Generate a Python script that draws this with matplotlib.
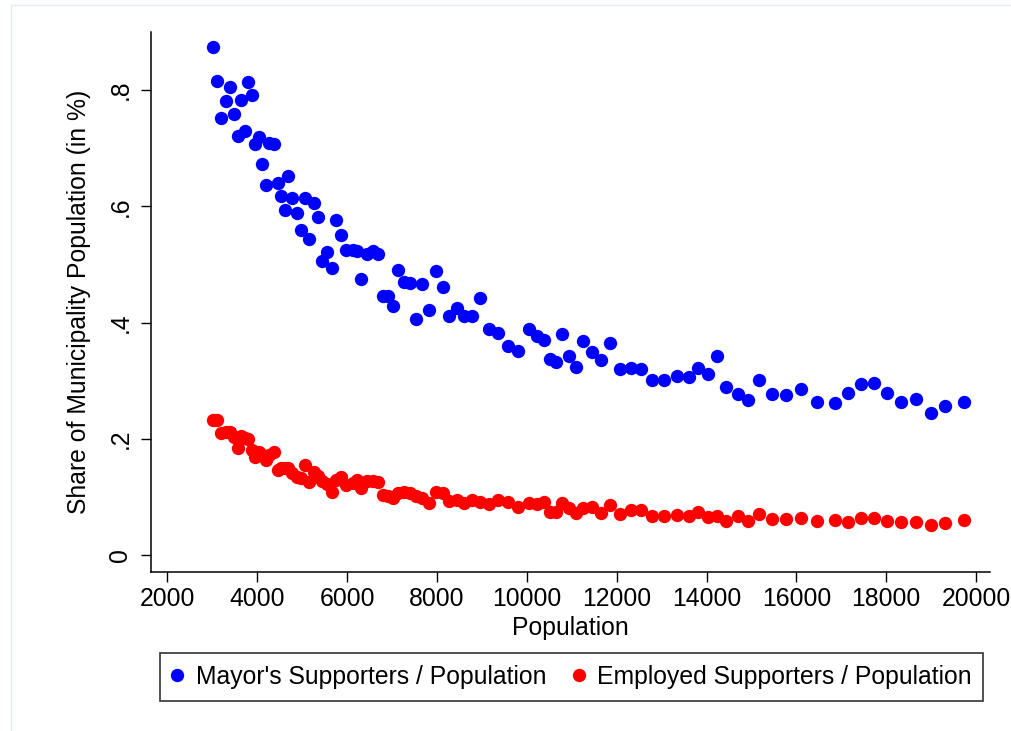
import matplotlib
matplotlib.use("Agg")
import matplotlib.pyplot as plt
from matplotlib.lines import Line2D

plt.rcParams['font.family'] = ['Liberation Sans', 'DejaVu Sans']

population = [3010, 3100, 3190, 3300, 3390, 3480, 3570, 3640, 3720, 3790,
              3880, 3950, 4040, 4100, 4190, 4260, 4370, 4460, 4530, 4620,
              4680, 4770, 4880, 4970, 5060, 5150, 5260, 5350, 5440, 5550,
              5660, 5750, 5860, 5970, 6130, 6220, 6310, 6440, 6580, 6690,
              6800, 6910, 7020, 7130, 7270, 7400, 7530, 7670, 7820, 7980,
              8130, 8270, 8450, 8600, 8780, 8960, 9160, 9360, 9580, 9800,
              10050, 10230, 10380, 10520, 10650, 10780, 10940, 11090, 11250, 11450,
              11650, 11850, 12070, 12320, 12540, 12790, 13050, 13340, 13610, 13810,
              14030, 14230, 14430, 14700, 14920, 15170, 15460, 15770, 16100, 16460,
              16860, 17150, 17440, 17730, 18020, 18330, 18660, 19000, 19310, 19730]

mayor_supporters = [.874, .815, .752, .781, .805, .759, .721, .783, .730, .814,
                    .791, .707, .719, .673, .637, .709, .707, .640, .618, .594,
                    .652, .614, .589, .559, .614, .544, .606, .582, .506, .522,
                    .494, .577, .551, .525, .525, .523, .475, .518, .523, .518,
                    .446, .446, .429, .491, .470, .468, .406, .467, .422, .489,
                    .461, .412, .425, .412, .412, .443, .389, .382, .360, .351,
                    .389, .377, .370, .338, .333, .381, .343, .324, .369, .350,
                    .336, .365, .321, .322, .321, .302, .302, .308, .307, .322,
                    .312, .343, .290, .278, .267, .302, .278, .276, .286, .264,
                    .262, .279, .295, .296, .279, .264, .269, .245, .257, .264]

employed_supporters = [.233, .233, .211, .212, .212, .204, .185, .205, .202, .200,
                       .181, .169, .178, .173, .164, .173, .178, .147, .150, .150,
                       .150, .142, .135, .133, .156, .126, .143, .137, .128, .123,
                       .109, .130, .135, .121, .125, .130, .116, .128, .128, .126,
                       .104, .102, .099, .107, .109, .107, .102, .099, .090, .109,
                       .107, .094, .095, .090, .095, .092, .089, .095, .092, .083,
                       .090, .089, .092, .075, .075, .090, .082, .073, .082, .083,
                       .073, .087, .071, .078, .078, .068, .068, .070, .068, .075,
                       .066, .068, .059, .068, .059, .071, .063, .063, .064, .059,
                       .061, .058, .064, .064, .059, .058, .058, .052, .056, .061]

x_ticks = [2000, 4000, 6000, 8000, 10000, 12000, 14000, 16000, 18000, 20000]
y_ticks = [0, 0.2, 0.4, 0.6, 0.8]
y_tick_labels = ["0", ".2", ".4", ".6", ".8"]
series_labels = ["Mayor's Supporters / Population", "Employed Supporters / Population"]

W, H = 1011, 731
fig = plt.figure(figsize=(W / 100, H / 100), dpi=100)
fig.patch.set_facecolor('white')

ax = fig.add_axes([151 / W, (H - 572) / H, (990 - 151) / W, (572 - 32) / H])
ms = 9.6
ax.plot(population, mayor_supporters, 'o', color='#0000ff', ms=ms, mec='#0000ff', mew=0, label=series_labels[0])
ax.plot(population, employed_supporters, 'o', color='#ff0000', ms=ms, mec='#ff0000', mew=0, label=series_labels[1])

ax.set_xlim(1633, 20311)
ax.set_ylim(-0.0284, 0.8996)
ax.set_xticks(x_ticks)
ax.set_xticklabels([str(t) for t in x_ticks])
ax.set_yticks(y_ticks)
ax.set_yticklabels(y_tick_labels, rotation=90, va='center')

for s in ['top', 'right']:
    ax.spines[s].set_visible(False)
for s in ['left', 'bottom']:
    ax.spines[s].set_linewidth(1.1)
    ax.spines[s].set_color('black')

ax.tick_params(axis='both', length=7.5, width=1.0, labelsize=17.8, colors='black')
ax.tick_params(axis='x', pad=3)
ax.tick_params(axis='y', pad=6)

ax.set_xlabel("Population", fontsize=17.8)
ax.set_ylabel("Share of Municipality Population (in %)", fontsize=17.8)
ax.xaxis.set_label_coords(0.5, -0.082)
ax.yaxis.set_label_coords(-0.071, 0.5)

handles = [Line2D([], [], marker='o', ls='none', color='#0000ff', ms=ms, mew=0),
           Line2D([], [], marker='o', ls='none', color='#ff0000', ms=ms, mew=0)]
leg = fig.legend(handles, series_labels, loc='center',
                 bbox_to_anchor=(571.5 / W, 1 - 677 / H), ncol=2,
                 fontsize=17.8, frameon=True, fancybox=False, edgecolor='black',
                 borderpad=0.47, handlelength=0.5, handletextpad=0.5,
                 columnspacing=1.05, borderaxespad=0)
leg.get_frame().set_linewidth(1.2)

# faint outer graph-region border
fig.add_artist(Line2D([11 / W, 11 / W], [0, 1 - 5 / H], transform=fig.transFigure, color='#e3eaf1', lw=1))
fig.add_artist(Line2D([11 / W, 1], [1 - 5 / H, 1 - 5 / H], transform=fig.transFigure, color='#e3eaf1', lw=1))

fig.savefig("out.png", dpi=100, facecolor='white')
